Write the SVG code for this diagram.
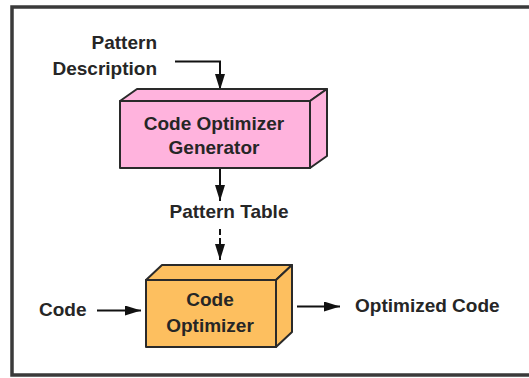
<svg xmlns="http://www.w3.org/2000/svg" width="529" height="378" viewBox="0 0 529 378">
  <defs>
    <marker id="ah" markerUnits="userSpaceOnUse" markerWidth="16" markerHeight="10" refX="16" refY="5" orient="auto">
      <path d="M0,0 L16,5 L0,10 z" fill="#111"/>
    </marker>
    <style>
      .t { font-family: "Liberation Sans", Arial, sans-serif; font-weight: bold; font-size: 19px; fill: #262626; }
      .m { text-anchor: middle; }
      .e { text-anchor: end; }
      .box { stroke: #2a2a2a; stroke-width: 2; stroke-linejoin: round; }
      .pink { fill: #ffb3dd; }
      .orange { fill: #fdbf5f; }
      .conn { fill: none; stroke: #111; stroke-width: 2; }
    </style>
  </defs>
  <rect width="529" height="378" fill="#ffffff"/>
  <path d="M540,7 H12 V375 H540" fill="none" stroke="#3a3a3a" stroke-width="3.5"/>

  <g id="connectors">
    <path class="conn" d="M175,61.5 H220 V90" marker-end="url(#ah)"/>
    <path class="conn" d="M220,169 V201" marker-end="url(#ah)"/>
    <path class="conn" d="M220,229 V260" marker-end="url(#ah)" stroke-dasharray="6 3 40"/>
    <path class="conn" d="M97,310.5 H141" marker-end="url(#ah)"/>
    <path class="conn" d="M297,306.5 H340" marker-end="url(#ah)"/>
  </g>

  <g id="pattern-description">
    <text class="t e" x="157" y="49">Pattern</text>
    <text class="t e" x="157" y="75">Description</text>
  </g>

  <g id="code-optimizer-generator">
    <polygon class="box pink" points="120,101 137,89 327,89 310,101"/>
    <polygon class="box pink" points="310,101 327,89 327,156 310,168"/>
    <rect class="box pink" x="120" y="101" width="190" height="67"/>
    <text class="t m" x="214" y="130">Code Optimizer</text>
    <text class="t m" x="214" y="153.5">Generator</text>
  </g>

  <g id="pattern-table">
    <text class="t m" x="229" y="218">Pattern Table</text>
  </g>

  <g id="code-optimizer">
    <polygon class="box orange" points="146,280 162,265 292,265 276,280"/>
    <polygon class="box orange" points="276,280 292,265 292,332 276,347"/>
    <rect class="box orange" x="146" y="280" width="130" height="67"/>
    <text class="t m" x="210" y="305.5">Code</text>
    <text class="t m" x="210" y="332">Optimizer</text>
  </g>

  <g id="code">
    <text class="t" x="39" y="315.5">Code</text>
  </g>

  <g id="optimized-code">
    <text class="t" x="355" y="312">Optimized Code</text>
  </g>
</svg>
